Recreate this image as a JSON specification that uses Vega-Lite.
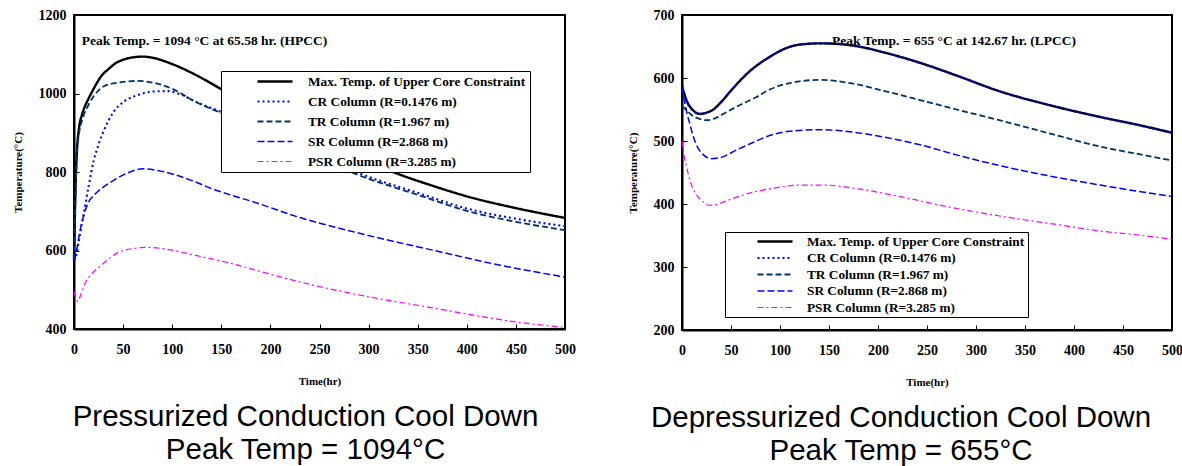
{
  "$schema": "https://vega.github.io/schema/vega-lite/v6.json",
  "background": "white",
  "padding": {"left": 11, "top": 7, "right": 5, "bottom": 5},
  "spacing": 49,
  "config": {
    "view": {"stroke": "black", "strokeWidth": 2},
    "axis": {
      "domainColor": "black", "domainWidth": 2,
      "tickColor": "black", "tickSize": -5, "tickWidth": 1,
      "grid": false, "labelFlush": false, "format": "d",
      "labelFont": "Liberation Serif", "labelFontWeight": "bold", "labelFontSize": 14, "labelColor": "black",
      "titleFont": "Liberation Serif", "titleFontWeight": "bold", "titleFontSize": 11, "titleColor": "black"
    },
    "axisX": {"labelPadding": 18, "titlePadding": 19},
    "axisY": {"labelPadding": 13, "titlePadding": 15},
    "title": {"font": "Liberation Sans", "fontSize": 29.5, "fontWeight": "normal", "color": "black", "lineHeight": 33}
  },
  "resolve": {
    "scale": {"x": "independent", "y": "independent", "color": "independent", "strokeDash": "independent", "strokeWidth": "independent"},
    "legend": {"color": "independent", "strokeDash": "independent"}
  },
  "datasets": {
    "hpcc": [
      {"hr": 0, "temp": 575, "series": "Max. Temp. of Upper Core Constraint"},
      {"hr": 1, "temp": 700, "series": "Max. Temp. of Upper Core Constraint"},
      {"hr": 2, "temp": 800, "series": "Max. Temp. of Upper Core Constraint"},
      {"hr": 3, "temp": 855, "series": "Max. Temp. of Upper Core Constraint"},
      {"hr": 5, "temp": 910, "series": "Max. Temp. of Upper Core Constraint"},
      {"hr": 8, "temp": 945, "series": "Max. Temp. of Upper Core Constraint"},
      {"hr": 10, "temp": 960, "series": "Max. Temp. of Upper Core Constraint"},
      {"hr": 15, "temp": 988, "series": "Max. Temp. of Upper Core Constraint"},
      {"hr": 20, "temp": 1012, "series": "Max. Temp. of Upper Core Constraint"},
      {"hr": 28, "temp": 1045, "series": "Max. Temp. of Upper Core Constraint"},
      {"hr": 35, "temp": 1062, "series": "Max. Temp. of Upper Core Constraint"},
      {"hr": 43, "temp": 1078, "series": "Max. Temp. of Upper Core Constraint"},
      {"hr": 50, "temp": 1086, "series": "Max. Temp. of Upper Core Constraint"},
      {"hr": 63, "temp": 1093, "series": "Max. Temp. of Upper Core Constraint"},
      {"hr": 70, "temp": 1094, "series": "Max. Temp. of Upper Core Constraint"},
      {"hr": 80, "temp": 1091, "series": "Max. Temp. of Upper Core Constraint"},
      {"hr": 100, "temp": 1075, "series": "Max. Temp. of Upper Core Constraint"},
      {"hr": 125, "temp": 1046, "series": "Max. Temp. of Upper Core Constraint"},
      {"hr": 150, "temp": 1011, "series": "Max. Temp. of Upper Core Constraint"},
      {"hr": 200, "temp": 942, "series": "Max. Temp. of Upper Core Constraint"},
      {"hr": 250, "temp": 880, "series": "Max. Temp. of Upper Core Constraint"},
      {"hr": 300, "temp": 825, "series": "Max. Temp. of Upper Core Constraint"},
      {"hr": 330, "temp": 795, "series": "Max. Temp. of Upper Core Constraint"},
      {"hr": 365, "temp": 765, "series": "Max. Temp. of Upper Core Constraint"},
      {"hr": 400, "temp": 738, "series": "Max. Temp. of Upper Core Constraint"},
      {"hr": 450, "temp": 708, "series": "Max. Temp. of Upper Core Constraint"},
      {"hr": 500, "temp": 683, "series": "Max. Temp. of Upper Core Constraint"},

      {"hr": 0, "temp": 575, "series": "CR Column (R=0.1476 m)"},
      {"hr": 2, "temp": 585, "series": "CR Column (R=0.1476 m)"},
      {"hr": 4, "temp": 610, "series": "CR Column (R=0.1476 m)"},
      {"hr": 6, "temp": 640, "series": "CR Column (R=0.1476 m)"},
      {"hr": 10, "temp": 695, "series": "CR Column (R=0.1476 m)"},
      {"hr": 15, "temp": 765, "series": "CR Column (R=0.1476 m)"},
      {"hr": 20, "temp": 828, "series": "CR Column (R=0.1476 m)"},
      {"hr": 25, "temp": 870, "series": "CR Column (R=0.1476 m)"},
      {"hr": 30, "temp": 903, "series": "CR Column (R=0.1476 m)"},
      {"hr": 40, "temp": 952, "series": "CR Column (R=0.1476 m)"},
      {"hr": 50, "temp": 978, "series": "CR Column (R=0.1476 m)"},
      {"hr": 65, "temp": 996, "series": "CR Column (R=0.1476 m)"},
      {"hr": 80, "temp": 1005, "series": "CR Column (R=0.1476 m)"},
      {"hr": 95, "temp": 1006, "series": "CR Column (R=0.1476 m)"},
      {"hr": 110, "temp": 996, "series": "CR Column (R=0.1476 m)"},
      {"hr": 125, "temp": 978, "series": "CR Column (R=0.1476 m)"},
      {"hr": 150, "temp": 953, "series": "CR Column (R=0.1476 m)"},
      {"hr": 200, "temp": 896, "series": "CR Column (R=0.1476 m)"},
      {"hr": 250, "temp": 841, "series": "CR Column (R=0.1476 m)"},
      {"hr": 290, "temp": 797, "series": "CR Column (R=0.1476 m)"},
      {"hr": 350, "temp": 747, "series": "CR Column (R=0.1476 m)"},
      {"hr": 400, "temp": 707, "series": "CR Column (R=0.1476 m)"},
      {"hr": 450, "temp": 681, "series": "CR Column (R=0.1476 m)"},
      {"hr": 500, "temp": 662, "series": "CR Column (R=0.1476 m)"},

      {"hr": 0, "temp": 575, "series": "TR Column (R=1.967 m)"},
      {"hr": 1, "temp": 690, "series": "TR Column (R=1.967 m)"},
      {"hr": 2, "temp": 780, "series": "TR Column (R=1.967 m)"},
      {"hr": 3, "temp": 845, "series": "TR Column (R=1.967 m)"},
      {"hr": 5, "temp": 895, "series": "TR Column (R=1.967 m)"},
      {"hr": 8, "temp": 930, "series": "TR Column (R=1.967 m)"},
      {"hr": 10, "temp": 945, "series": "TR Column (R=1.967 m)"},
      {"hr": 15, "temp": 972, "series": "TR Column (R=1.967 m)"},
      {"hr": 20, "temp": 993, "series": "TR Column (R=1.967 m)"},
      {"hr": 25, "temp": 1008, "series": "TR Column (R=1.967 m)"},
      {"hr": 30, "temp": 1018, "series": "TR Column (R=1.967 m)"},
      {"hr": 45, "temp": 1028, "series": "TR Column (R=1.967 m)"},
      {"hr": 65, "temp": 1032, "series": "TR Column (R=1.967 m)"},
      {"hr": 85, "temp": 1025, "series": "TR Column (R=1.967 m)"},
      {"hr": 100, "temp": 1012, "series": "TR Column (R=1.967 m)"},
      {"hr": 125, "temp": 977, "series": "TR Column (R=1.967 m)"},
      {"hr": 150, "temp": 950, "series": "TR Column (R=1.967 m)"},
      {"hr": 200, "temp": 892, "series": "TR Column (R=1.967 m)"},
      {"hr": 250, "temp": 836, "series": "TR Column (R=1.967 m)"},
      {"hr": 290, "temp": 792, "series": "TR Column (R=1.967 m)"},
      {"hr": 350, "temp": 742, "series": "TR Column (R=1.967 m)"},
      {"hr": 400, "temp": 701, "series": "TR Column (R=1.967 m)"},
      {"hr": 450, "temp": 673, "series": "TR Column (R=1.967 m)"},
      {"hr": 500, "temp": 652, "series": "TR Column (R=1.967 m)"},

      {"hr": 0, "temp": 575, "series": "SR Column (R=2.868 m)"},
      {"hr": 2, "temp": 590, "series": "SR Column (R=2.868 m)"},
      {"hr": 4, "temp": 620, "series": "SR Column (R=2.868 m)"},
      {"hr": 7, "temp": 660, "series": "SR Column (R=2.868 m)"},
      {"hr": 10, "temp": 690, "series": "SR Column (R=2.868 m)"},
      {"hr": 15, "temp": 724, "series": "SR Column (R=2.868 m)"},
      {"hr": 20, "temp": 740, "series": "SR Column (R=2.868 m)"},
      {"hr": 25, "temp": 752, "series": "SR Column (R=2.868 m)"},
      {"hr": 40, "temp": 778, "series": "SR Column (R=2.868 m)"},
      {"hr": 55, "temp": 798, "series": "SR Column (R=2.868 m)"},
      {"hr": 70, "temp": 808, "series": "SR Column (R=2.868 m)"},
      {"hr": 85, "temp": 804, "series": "SR Column (R=2.868 m)"},
      {"hr": 100, "temp": 795, "series": "SR Column (R=2.868 m)"},
      {"hr": 120, "temp": 778, "series": "SR Column (R=2.868 m)"},
      {"hr": 140, "temp": 758, "series": "SR Column (R=2.868 m)"},
      {"hr": 160, "temp": 741, "series": "SR Column (R=2.868 m)"},
      {"hr": 180, "temp": 726, "series": "SR Column (R=2.868 m)"},
      {"hr": 230, "temp": 684, "series": "SR Column (R=2.868 m)"},
      {"hr": 297, "temp": 640, "series": "SR Column (R=2.868 m)"},
      {"hr": 365, "temp": 601, "series": "SR Column (R=2.868 m)"},
      {"hr": 433, "temp": 563, "series": "SR Column (R=2.868 m)"},
      {"hr": 500, "temp": 532, "series": "SR Column (R=2.868 m)"},

      {"hr": 0, "temp": 495, "series": "PSR Column (R=3.285 m)"},
      {"hr": 2, "temp": 478, "series": "PSR Column (R=3.285 m)"},
      {"hr": 4, "temp": 470, "series": "PSR Column (R=3.285 m)"},
      {"hr": 7, "temp": 488, "series": "PSR Column (R=3.285 m)"},
      {"hr": 12, "temp": 520, "series": "PSR Column (R=3.285 m)"},
      {"hr": 18, "temp": 540, "series": "PSR Column (R=3.285 m)"},
      {"hr": 25, "temp": 556, "series": "PSR Column (R=3.285 m)"},
      {"hr": 35, "temp": 578, "series": "PSR Column (R=3.285 m)"},
      {"hr": 43, "temp": 592, "series": "PSR Column (R=3.285 m)"},
      {"hr": 60, "temp": 605, "series": "PSR Column (R=3.285 m)"},
      {"hr": 75, "temp": 608, "series": "PSR Column (R=3.285 m)"},
      {"hr": 95, "temp": 603, "series": "PSR Column (R=3.285 m)"},
      {"hr": 125, "temp": 587, "series": "PSR Column (R=3.285 m)"},
      {"hr": 160, "temp": 567, "series": "PSR Column (R=3.285 m)"},
      {"hr": 195, "temp": 543, "series": "PSR Column (R=3.285 m)"},
      {"hr": 230, "temp": 520, "series": "PSR Column (R=3.285 m)"},
      {"hr": 300, "temp": 482, "series": "PSR Column (R=3.285 m)"},
      {"hr": 365, "temp": 454, "series": "PSR Column (R=3.285 m)"},
      {"hr": 405, "temp": 436, "series": "PSR Column (R=3.285 m)"},
      {"hr": 450, "temp": 418, "series": "PSR Column (R=3.285 m)"},
      {"hr": 500, "temp": 404, "series": "PSR Column (R=3.285 m)"}
    ],
    "lpcc": [
      {"hr": 0, "temp": 587, "series": "Max. Temp. of Upper Core Constraint"},
      {"hr": 3, "temp": 572, "series": "Max. Temp. of Upper Core Constraint"},
      {"hr": 6, "temp": 560, "series": "Max. Temp. of Upper Core Constraint"},
      {"hr": 10, "temp": 551, "series": "Max. Temp. of Upper Core Constraint"},
      {"hr": 18, "temp": 543, "series": "Max. Temp. of Upper Core Constraint"},
      {"hr": 25, "temp": 545, "series": "Max. Temp. of Upper Core Constraint"},
      {"hr": 32, "temp": 550, "series": "Max. Temp. of Upper Core Constraint"},
      {"hr": 40, "temp": 562, "series": "Max. Temp. of Upper Core Constraint"},
      {"hr": 50, "temp": 580, "series": "Max. Temp. of Upper Core Constraint"},
      {"hr": 60, "temp": 597, "series": "Max. Temp. of Upper Core Constraint"},
      {"hr": 70, "temp": 612, "series": "Max. Temp. of Upper Core Constraint"},
      {"hr": 80, "temp": 624, "series": "Max. Temp. of Upper Core Constraint"},
      {"hr": 90, "temp": 634, "series": "Max. Temp. of Upper Core Constraint"},
      {"hr": 100, "temp": 643, "series": "Max. Temp. of Upper Core Constraint"},
      {"hr": 120, "temp": 653, "series": "Max. Temp. of Upper Core Constraint"},
      {"hr": 142, "temp": 655, "series": "Max. Temp. of Upper Core Constraint"},
      {"hr": 160, "temp": 654, "series": "Max. Temp. of Upper Core Constraint"},
      {"hr": 180, "temp": 650, "series": "Max. Temp. of Upper Core Constraint"},
      {"hr": 210, "temp": 639, "series": "Max. Temp. of Upper Core Constraint"},
      {"hr": 243, "temp": 624, "series": "Max. Temp. of Upper Core Constraint"},
      {"hr": 280, "temp": 604, "series": "Max. Temp. of Upper Core Constraint"},
      {"hr": 324, "temp": 579, "series": "Max. Temp. of Upper Core Constraint"},
      {"hr": 380, "temp": 555, "series": "Max. Temp. of Upper Core Constraint"},
      {"hr": 427, "temp": 538, "series": "Max. Temp. of Upper Core Constraint"},
      {"hr": 470, "temp": 524, "series": "Max. Temp. of Upper Core Constraint"},
      {"hr": 500, "temp": 513, "series": "Max. Temp. of Upper Core Constraint"},

      {"hr": 0, "temp": 580, "series": "CR Column (R=0.1476 m)"},
      {"hr": 3, "temp": 568, "series": "CR Column (R=0.1476 m)"},
      {"hr": 6, "temp": 558, "series": "CR Column (R=0.1476 m)"},
      {"hr": 10, "temp": 550, "series": "CR Column (R=0.1476 m)"},
      {"hr": 18, "temp": 543, "series": "CR Column (R=0.1476 m)"},
      {"hr": 25, "temp": 545, "series": "CR Column (R=0.1476 m)"},
      {"hr": 32, "temp": 550, "series": "CR Column (R=0.1476 m)"},
      {"hr": 40, "temp": 562, "series": "CR Column (R=0.1476 m)"},
      {"hr": 50, "temp": 580, "series": "CR Column (R=0.1476 m)"},
      {"hr": 60, "temp": 597, "series": "CR Column (R=0.1476 m)"},
      {"hr": 70, "temp": 612, "series": "CR Column (R=0.1476 m)"},
      {"hr": 80, "temp": 624, "series": "CR Column (R=0.1476 m)"},
      {"hr": 90, "temp": 634, "series": "CR Column (R=0.1476 m)"},
      {"hr": 100, "temp": 643, "series": "CR Column (R=0.1476 m)"},
      {"hr": 120, "temp": 653, "series": "CR Column (R=0.1476 m)"},
      {"hr": 142, "temp": 655, "series": "CR Column (R=0.1476 m)"},
      {"hr": 160, "temp": 654, "series": "CR Column (R=0.1476 m)"},
      {"hr": 180, "temp": 650, "series": "CR Column (R=0.1476 m)"},
      {"hr": 210, "temp": 639, "series": "CR Column (R=0.1476 m)"},
      {"hr": 243, "temp": 624, "series": "CR Column (R=0.1476 m)"},
      {"hr": 280, "temp": 604, "series": "CR Column (R=0.1476 m)"},
      {"hr": 324, "temp": 579, "series": "CR Column (R=0.1476 m)"},
      {"hr": 380, "temp": 555, "series": "CR Column (R=0.1476 m)"},
      {"hr": 427, "temp": 538, "series": "CR Column (R=0.1476 m)"},
      {"hr": 470, "temp": 524, "series": "CR Column (R=0.1476 m)"},
      {"hr": 500, "temp": 513, "series": "CR Column (R=0.1476 m)"},

      {"hr": 0, "temp": 556, "series": "TR Column (R=1.967 m)"},
      {"hr": 5, "temp": 548, "series": "TR Column (R=1.967 m)"},
      {"hr": 10, "temp": 541, "series": "TR Column (R=1.967 m)"},
      {"hr": 18, "temp": 535, "series": "TR Column (R=1.967 m)"},
      {"hr": 25, "temp": 533, "series": "TR Column (R=1.967 m)"},
      {"hr": 32, "temp": 535, "series": "TR Column (R=1.967 m)"},
      {"hr": 40, "temp": 541, "series": "TR Column (R=1.967 m)"},
      {"hr": 55, "temp": 554, "series": "TR Column (R=1.967 m)"},
      {"hr": 75, "temp": 569, "series": "TR Column (R=1.967 m)"},
      {"hr": 90, "temp": 582, "series": "TR Column (R=1.967 m)"},
      {"hr": 110, "temp": 592, "series": "TR Column (R=1.967 m)"},
      {"hr": 140, "temp": 597, "series": "TR Column (R=1.967 m)"},
      {"hr": 175, "temp": 591, "series": "TR Column (R=1.967 m)"},
      {"hr": 210, "temp": 578, "series": "TR Column (R=1.967 m)"},
      {"hr": 243, "temp": 565, "series": "TR Column (R=1.967 m)"},
      {"hr": 280, "temp": 550, "series": "TR Column (R=1.967 m)"},
      {"hr": 324, "temp": 533, "series": "TR Column (R=1.967 m)"},
      {"hr": 380, "temp": 510, "series": "TR Column (R=1.967 m)"},
      {"hr": 427, "temp": 491, "series": "TR Column (R=1.967 m)"},
      {"hr": 470, "temp": 478, "series": "TR Column (R=1.967 m)"},
      {"hr": 500, "temp": 469, "series": "TR Column (R=1.967 m)"},

      {"hr": 0, "temp": 585, "series": "SR Column (R=2.868 m)"},
      {"hr": 2, "temp": 568, "series": "SR Column (R=2.868 m)"},
      {"hr": 5, "temp": 545, "series": "SR Column (R=2.868 m)"},
      {"hr": 8, "temp": 527, "series": "SR Column (R=2.868 m)"},
      {"hr": 12, "temp": 505, "series": "SR Column (R=2.868 m)"},
      {"hr": 16, "temp": 490, "series": "SR Column (R=2.868 m)"},
      {"hr": 22, "temp": 478, "series": "SR Column (R=2.868 m)"},
      {"hr": 30, "temp": 472, "series": "SR Column (R=2.868 m)"},
      {"hr": 40, "temp": 474, "series": "SR Column (R=2.868 m)"},
      {"hr": 56, "temp": 486, "series": "SR Column (R=2.868 m)"},
      {"hr": 73, "temp": 498, "series": "SR Column (R=2.868 m)"},
      {"hr": 90, "temp": 509, "series": "SR Column (R=2.868 m)"},
      {"hr": 107, "temp": 515, "series": "SR Column (R=2.868 m)"},
      {"hr": 140, "temp": 518, "series": "SR Column (R=2.868 m)"},
      {"hr": 175, "temp": 514, "series": "SR Column (R=2.868 m)"},
      {"hr": 210, "temp": 505, "series": "SR Column (R=2.868 m)"},
      {"hr": 243, "temp": 494, "series": "SR Column (R=2.868 m)"},
      {"hr": 280, "temp": 478, "series": "SR Column (R=2.868 m)"},
      {"hr": 324, "temp": 461, "series": "SR Column (R=2.868 m)"},
      {"hr": 380, "temp": 443, "series": "SR Column (R=2.868 m)"},
      {"hr": 427, "temp": 430, "series": "SR Column (R=2.868 m)"},
      {"hr": 470, "temp": 419, "series": "SR Column (R=2.868 m)"},
      {"hr": 500, "temp": 412, "series": "SR Column (R=2.868 m)"},

      {"hr": 0, "temp": 500, "series": "PSR Column (R=3.285 m)"},
      {"hr": 2, "temp": 478, "series": "PSR Column (R=3.285 m)"},
      {"hr": 5, "temp": 457, "series": "PSR Column (R=3.285 m)"},
      {"hr": 8, "temp": 438, "series": "PSR Column (R=3.285 m)"},
      {"hr": 11, "temp": 425, "series": "PSR Column (R=3.285 m)"},
      {"hr": 16, "temp": 412, "series": "PSR Column (R=3.285 m)"},
      {"hr": 22, "temp": 403, "series": "PSR Column (R=3.285 m)"},
      {"hr": 28, "temp": 398, "series": "PSR Column (R=3.285 m)"},
      {"hr": 35, "temp": 399, "series": "PSR Column (R=3.285 m)"},
      {"hr": 42, "temp": 403, "series": "PSR Column (R=3.285 m)"},
      {"hr": 56, "temp": 411, "series": "PSR Column (R=3.285 m)"},
      {"hr": 76, "temp": 420, "series": "PSR Column (R=3.285 m)"},
      {"hr": 97, "temp": 426, "series": "PSR Column (R=3.285 m)"},
      {"hr": 120, "temp": 430, "series": "PSR Column (R=3.285 m)"},
      {"hr": 145, "temp": 430, "series": "PSR Column (R=3.285 m)"},
      {"hr": 180, "temp": 424, "series": "PSR Column (R=3.285 m)"},
      {"hr": 222, "temp": 412, "series": "PSR Column (R=3.285 m)"},
      {"hr": 270, "temp": 396, "series": "PSR Column (R=3.285 m)"},
      {"hr": 324, "temp": 381, "series": "PSR Column (R=3.285 m)"},
      {"hr": 380, "temp": 368, "series": "PSR Column (R=3.285 m)"},
      {"hr": 427, "temp": 357, "series": "PSR Column (R=3.285 m)"},
      {"hr": 470, "temp": 350, "series": "PSR Column (R=3.285 m)"},
      {"hr": 500, "temp": 344, "series": "PSR Column (R=3.285 m)"}
    ]
  },
  "hconcat": [
    {
      "width": 491,
      "height": 314,
      "title": {"text": ["Pressurized Conduction Cool Down", "Peak Temp = 1094°C"], "orient": "bottom", "anchor": "middle", "frame": "group", "dx": -14, "offset": 17},
      "layer": [
        {
          "data": {"name": "hpcc"},
          "mark": {"type": "line", "interpolate": "monotone"},
          "encoding": {
            "x": {"field": "hr", "type": "quantitative", "scale": {"domain": [0, 500], "nice": false}, "axis": {"title": "Time(hr)", "values": [0, 50, 100, 150, 200, 250, 300, 350, 400, 450, 500]}},
            "y": {"field": "temp", "type": "quantitative", "scale": {"domain": [400, 1200], "nice": false}, "axis": {"title": "Temperature(°C)", "values": [400, 600, 800, 1000, 1200]}},
            "color": {"field": "series", "type": "nominal",
              "scale": {"domain": ["Max. Temp. of Upper Core Constraint", "CR Column (R=0.1476 m)", "TR Column (R=1.967 m)", "SR Column (R=2.868 m)", "PSR Column (R=3.285 m)"], "range": ["#000000", "#0000FF", "#003366", "#0000FF", "#FF00FF"]},
              "legend": {"title": null, "orient": "none", "legendX": 147, "legendY": 56, "strokeColor": "black", "fillColor": "white", "padding": 4, "symbolOffset": 31, "symbolSize": 1225, "symbolType": "stroke", "clipHeight": 13, "labelOffset": 14, "labelLimit": 400, "rowPadding": 6, "labelFont": "Liberation Serif", "labelFontWeight": "bold", "labelFontSize": 13.3, "labelColor": "black",
                "encode": {"symbols": {"update": {"strokeWidth": {"signal": "datum.value === 'Max. Temp. of Upper Core Constraint' ? 2.4 : 1.5"}}}}}},
            "strokeDash": {"field": "series", "type": "nominal",
              "scale": {"domain": ["Max. Temp. of Upper Core Constraint", "CR Column (R=0.1476 m)", "TR Column (R=1.967 m)", "SR Column (R=2.868 m)", "PSR Column (R=3.285 m)"], "range": [[1, 0], [2, 3], [6, 3], [7, 3], [6, 3, 2, 3]]},
              "legend": {"title": null, "orient": "none", "legendX": 147, "legendY": 56, "strokeColor": "black", "fillColor": "white", "padding": 4, "symbolOffset": 31, "symbolSize": 1225, "symbolType": "stroke", "clipHeight": 13, "labelOffset": 14, "labelLimit": 400, "rowPadding": 6, "labelFont": "Liberation Serif", "labelFontWeight": "bold", "labelFontSize": 13.3, "labelColor": "black",
                "encode": {"symbols": {"update": {"strokeWidth": {"signal": "datum.value === 'Max. Temp. of Upper Core Constraint' ? 2.4 : 1.5"}}}}}},
            "strokeWidth": {"field": "series", "type": "nominal",
              "scale": {"domain": ["Max. Temp. of Upper Core Constraint", "CR Column (R=0.1476 m)", "TR Column (R=1.967 m)", "SR Column (R=2.868 m)", "PSR Column (R=3.285 m)"], "range": [2.4, 1.2, 1.2, 1.2, 1.2]},
              "legend": null}
          }
        },
        {
          "data": {"values": [{"note": "Peak Temp. = 1094 °C at 65.58 hr. (HPCC)"}]},
          "mark": {"type": "text", "align": "left", "baseline": "middle", "font": "Liberation Serif", "fontWeight": "bold", "fontSize": 13.5, "color": "black"},
          "encoding": {
            "x": {"datum": 8, "type": "quantitative"},
            "y": {"datum": 1134, "type": "quantitative"},
            "text": {"field": "note"}
          }
        }
      ]
    },
    {
      "width": 490,
      "height": 315,
      "title": {"text": ["Depressurized Conduction Cool Down", "Peak Temp = 655°C"], "orient": "bottom", "anchor": "middle", "frame": "group", "dx": -26, "offset": 17},
      "layer": [
        {
          "data": {"name": "lpcc"},
          "mark": {"type": "line", "interpolate": "monotone"},
          "encoding": {
            "x": {"field": "hr", "type": "quantitative", "scale": {"domain": [0, 500], "nice": false}, "axis": {"title": "Time(hr)", "values": [0, 50, 100, 150, 200, 250, 300, 350, 400, 450, 500]}},
            "y": {"field": "temp", "type": "quantitative", "scale": {"domain": [200, 700], "nice": false}, "axis": {"title": "Temperature(°C)", "values": [200, 300, 400, 500, 600, 700]}},
            "color": {"field": "series", "type": "nominal",
              "scale": {"domain": ["Max. Temp. of Upper Core Constraint", "CR Column (R=0.1476 m)", "TR Column (R=1.967 m)", "SR Column (R=2.868 m)", "PSR Column (R=3.285 m)"], "range": ["#000000", "#0000FF", "#003366", "#0000FF", "#FF00FF"]},
              "legend": {"title": null, "orient": "none", "legendX": 43, "legendY": 217, "strokeColor": "black", "fillColor": "white", "padding": 3, "symbolOffset": 28, "symbolSize": 1225, "symbolType": "stroke", "clipHeight": 13, "labelOffset": 13, "labelLimit": 400, "rowPadding": 2.5, "labelFont": "Liberation Serif", "labelFontWeight": "bold", "labelFontSize": 13.3, "labelColor": "black",
                "encode": {"symbols": {"update": {"strokeWidth": {"signal": "datum.value === 'Max. Temp. of Upper Core Constraint' ? 2.4 : 1.5"}}}, "labels": {"update": {"text": {"signal": "datum.label + '\u00a0\u00a0\u00a0\u00a0\u00a0\u00a0\u00a0'"}}}}}},
            "strokeDash": {"field": "series", "type": "nominal",
              "scale": {"domain": ["Max. Temp. of Upper Core Constraint", "CR Column (R=0.1476 m)", "TR Column (R=1.967 m)", "SR Column (R=2.868 m)", "PSR Column (R=3.285 m)"], "range": [[1, 0], [2, 3], [6, 3], [7, 3], [6, 3, 2, 3]]},
              "legend": {"title": null, "orient": "none", "legendX": 43, "legendY": 217, "strokeColor": "black", "fillColor": "white", "padding": 3, "symbolOffset": 28, "symbolSize": 1225, "symbolType": "stroke", "clipHeight": 13, "labelOffset": 13, "labelLimit": 400, "rowPadding": 2.5, "labelFont": "Liberation Serif", "labelFontWeight": "bold", "labelFontSize": 13.3, "labelColor": "black",
                "encode": {"symbols": {"update": {"strokeWidth": {"signal": "datum.value === 'Max. Temp. of Upper Core Constraint' ? 2.4 : 1.5"}}}, "labels": {"update": {"text": {"signal": "datum.label + '\u00a0\u00a0\u00a0\u00a0\u00a0\u00a0\u00a0'"}}}}}},
            "strokeWidth": {"field": "series", "type": "nominal",
              "scale": {"domain": ["Max. Temp. of Upper Core Constraint", "CR Column (R=0.1476 m)", "TR Column (R=1.967 m)", "SR Column (R=2.868 m)", "PSR Column (R=3.285 m)"], "range": [2.4, 1.2, 1.2, 1.2, 1.2]},
              "legend": null}
          }
        },
        {
          "data": {"values": [{"note": "Peak Temp. = 655 °C at 142.67 hr. (LPCC)"}]},
          "mark": {"type": "text", "align": "left", "baseline": "middle", "font": "Liberation Serif", "fontWeight": "bold", "fontSize": 13.5, "color": "black"},
          "encoding": {
            "x": {"datum": 153, "type": "quantitative"},
            "y": {"datum": 658, "type": "quantitative"},
            "text": {"field": "note"}
          }
        }
      ]
    }
  ]
}
